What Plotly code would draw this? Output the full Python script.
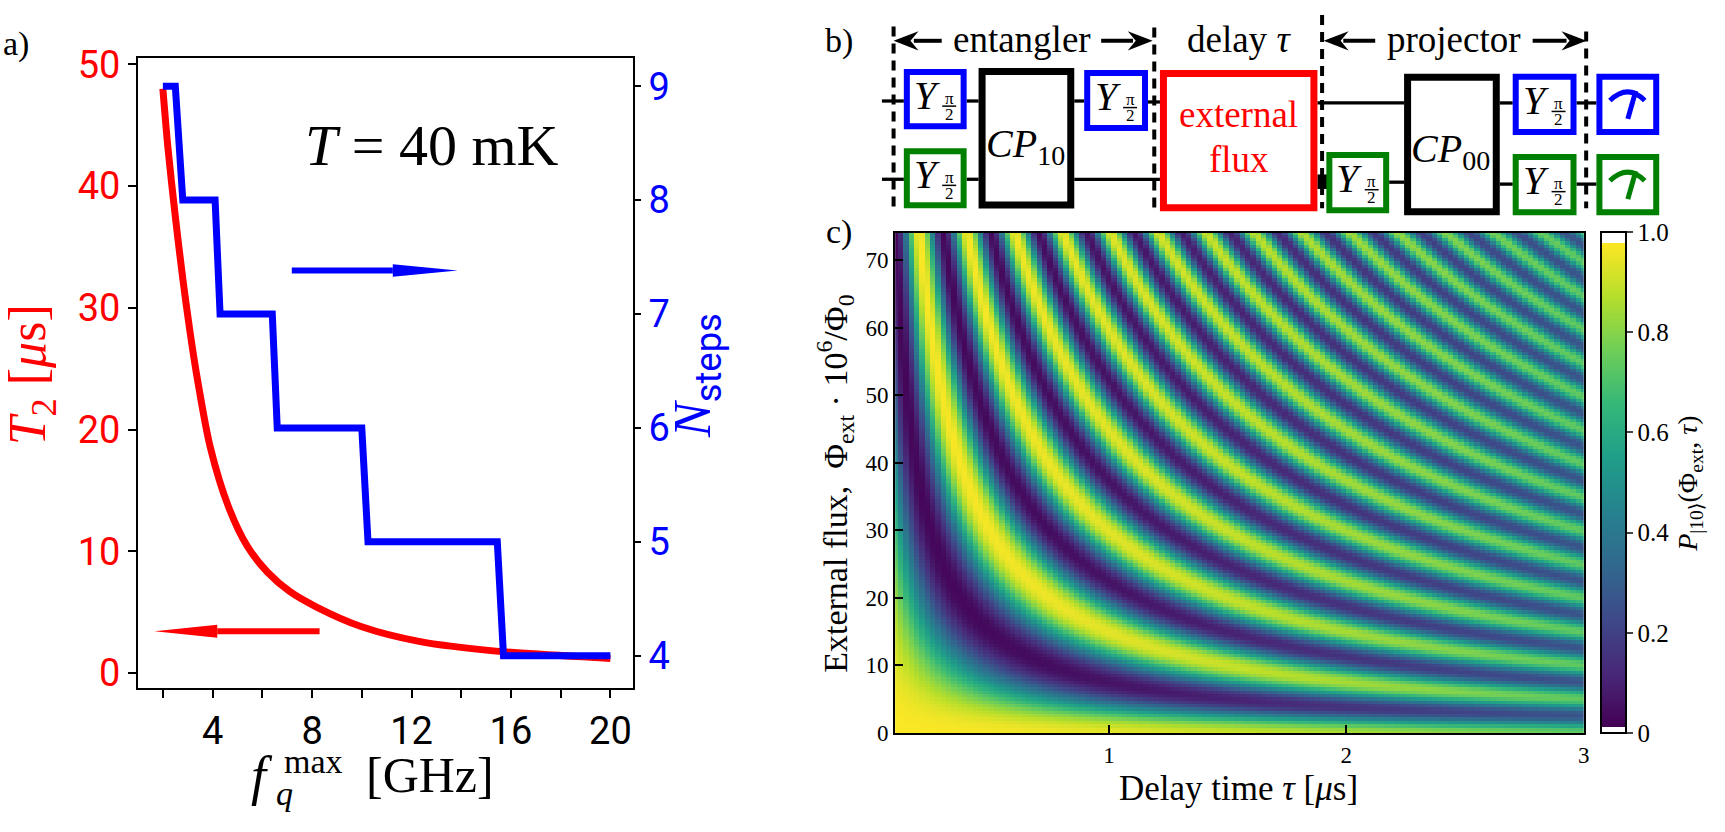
import numpy as np
import plotly.graph_objects as go
from plotly.colors import sequential

W, H = 1725, 832

# ---------------- panel a data ----------------
f_t2 = [2.0, 2.2, 2.5, 2.8, 3.1, 3.4, 3.9, 4.65, 5.4, 6.2, 7.1, 8.2, 10.0, 12.3, 15.4, 19.4, 20.0]
t2_us = [48.0, 43.2, 37.5, 32.4, 27.9, 24.0, 18.6, 13.6, 10.4, 8.3, 6.7, 5.4, 3.8, 2.6, 1.8, 1.27, 1.2]
f_steps = [2.0, 2.5, 2.8, 4.1, 4.3, 6.4, 6.6, 10.0, 10.25, 15.45, 15.7, 20.0]
n_steps = [9, 9, 8, 8, 7, 7, 6, 6, 5, 5, 4, 4]
f_ticks = [4, 8, 12, 16, 20]
f_minor_ticks = [2, 6, 10, 14, 18]
t2_ticks = [0, 10, 20, 30, 40, 50]
n_ticks = [4, 5, 6, 7, 8, 9]

# ---------------- panel c data (model) ----------------
tau_us = np.linspace(0.1, 3.0, 130)
phi_ext = np.linspace(0.0, 74.0, 150)
FRINGE_RATE = 0.067      # cycles per (us * 1e-6 Phi0)
CONTRAST = 0.95
DEPHASING_US = 3.6
TT, PP = np.meshgrid(tau_us, phi_ext)
P10 = 0.5 + 0.5 * CONTRAST * np.exp(-(TT / DEPHASING_US) ** 2) * np.cos(2 * np.pi * FRINGE_RATE * PP * TT)
tau_ticks = [1, 2, 3]
phi_ticks = [0, 10, 20, 30, 40, 50, 60, 70]
cb_ticks = [0, 0.2, 0.4, 0.6, 0.8, 1.0]
cb_text = ["0", "0.2", "0.4", "0.6", "0.8", "1.0"]

SERIF = "Liberation Serif, DejaVu Serif, serif"
SANS = "Liberation Sans Narrow, Roboto, DejaVu Sans, sans-serif"


def X(px):
    return px / W


def Y(py):
    return 1 - py / H


# viridis with white ends
vir = sequential.Viridis
lo, hi = 0.012, 0.978
cs = [[0, "white"], [lo, "white"]]
for i, c in enumerate(vir):
    cs.append([lo + (hi - lo) * i / (len(vir) - 1), c])
cs += [[hi, "white"], [1, "white"]]

fig = go.Figure()

fig.add_trace(go.Scatter(x=f_t2, y=t2_us, mode="lines", line=dict(color="#ff0000", width=7, shape="spline", smoothing=0.8),
                         xaxis="x", yaxis="y", hoverinfo="skip", showlegend=False))
fig.add_trace(go.Scatter(x=f_steps, y=n_steps, mode="lines", line=dict(color="#0000ff", width=7),
                         xaxis="x", yaxis="y2", hoverinfo="skip", showlegend=False))

fig.add_trace(go.Heatmap(
    x=tau_us, y=phi_ext, z=P10, zmin=0, zmax=1, colorscale=cs, xaxis="x2", yaxis="y3",
    hoverinfo="skip", zsmooth=False,
    colorbar=dict(x=X(1606.7), xanchor="left", y=Y(743), yanchor="bottom", len=518 / H, lenmode="fraction",
                  thickness=25, thicknessmode="pixels", outlinewidth=2, outlinecolor="black",
                  tickvals=cb_ticks, ticktext=cb_text, ticks="outside", ticklen=6, tickwidth=2,
                  tickfont=dict(family=SERIF, size=25, color="black"), xpad=0, ypad=0)))

axis_common = dict(showgrid=False, zeroline=False, showline=True, linecolor="black", linewidth=2)

fig.update_layout(
    width=W, height=H, margin=dict(l=0, r=0, t=0, b=0), paper_bgcolor="white", plot_bgcolor="white",
    showlegend=False,
    xaxis=dict(domain=[X(138.5), X(635)], range=[1.0, 20.9], anchor="y", mirror=True,
               tickvals=f_ticks, ticks="outside", ticklen=8, tickwidth=2, tickcolor="black",
               minor=dict(tickvals=f_minor_ticks, ticks="outside", ticklen=8, tickwidth=2, tickcolor="black",
                          showgrid=False),
               tickfont=dict(family=SANS, size=38, color="black"), **axis_common),
    yaxis=dict(domain=[Y(696.7), Y(44)], range=[-1.25, 50.56], anchor="x",
               tickvals=t2_ticks, ticks="outside", ticklen=8, tickwidth=2, tickcolor="black",
               tickfont=dict(family=SANS, size=38, color="#ff0000"), **axis_common),
    yaxis2=dict(overlaying="y", side="right", range=[3.714, 9.252], anchor="x",
                tickvals=n_ticks, ticks="outside", ticklen=6, tickwidth=2, tickcolor="black",
                tickfont=dict(family=SANS, size=38, color="#0000ff"), **axis_common),
    xaxis2=dict(domain=[X(898.3), X(1589.3)], range=[0.1, 3.0], anchor="y3", mirror=True,
                tickvals=tau_ticks, ticks="inside", ticklen=8, tickwidth=2, tickcolor="black",
                tickfont=dict(family=SERIF, size=23, color="black"), **axis_common),
    yaxis3=dict(domain=[Y(743), Y(225.5)], range=[0, 74], anchor="x2", mirror=True,
                tickvals=phi_ticks, ticks="inside", ticklen=8, tickwidth=2, tickcolor="black",
                tickfont=dict(family=SERIF, size=23, color="black"), **axis_common),
)

shapes = []
ann = []


def text(px, py, s, size, color="black", family=SERIF, angle=0, xanchor="center"):
    ann.append(dict(x=X(px), y=Y(py), xref="paper", yref="paper", text=s, showarrow=False,
                    font=dict(family=family, size=size, color=color), textangle=angle,
                    xanchor=xanchor, yanchor="middle"))


def line(x0, y0, x1, y1, color="black", width=3, dash="solid"):
    shapes.append(dict(type="line", xref="paper", yref="paper", x0=X(x0), y0=Y(y0), x1=X(x1), y1=Y(y1),
                       line=dict(color=color, width=width, dash=dash)))


def box(x0, y0, x1, y1, color, lw=6):
    h = lw / 2
    shapes.append(dict(type="rect", xref="paper", yref="paper", x0=X(x0 + h), y0=Y(y0 + h), x1=X(x1 - h),
                       y1=Y(y1 - h), line=dict(color=color, width=lw), fillcolor="white"))


def path(pts, color, closed=True, fill=True, width=0):
    d = "M " + " L ".join(f"{X(a):.5f},{Y(b):.5f}" for a, b in pts)
    if closed:
        d += " Z"
    shapes.append(dict(type="path", xref="paper", yref="paper", path=d,
                       fillcolor=color if fill else "rgba(0,0,0,0)",
                       line=dict(color=color, width=width)))


def simple_arrow(x_start, x_tip, y, color, head_len, hw, shaft_w):
    d = 1 if x_tip > x_start else -1
    hb = x_tip - d * head_len
    line(x_start, y, hb, y, color=color, width=shaft_w)
    path([(hb, y - hw), (x_tip, y), (hb, y + hw)], color)


def notched_head(x_tip, y, d, color, L=25, hw=10):
    path([(x_tip, y), (x_tip - d * L, y - hw), (x_tip - d * L * 0.68, y), (x_tip - d * L, y + hw)], color)


# ---------- panel a decorations ----------
simple_arrow(292.8, 459.2, 264.3, "#0000ff", 65, 6.5, 6)
simple_arrow(320.7, 155.0, 637.7, "#ff0000", 63, 6.7, 6)
text(16, 30, "a)", 34)
text(434, 135, "<i>T</i> = 40 mK", 58)
text(32, 372, "<i>T</i><sub>2</sub> [<i>μ</i>s]", 52, color="#ff0000", angle=-90)
text(700, 373, "<i>N</i><sub><span style='font-family:Roboto'>steps</span></sub>", 52, color="#0000ff", angle=-90)
text(263, 788, "<i>f</i>", 54)
text(315, 772, "max", 34)
text(285, 806, "<i>q</i>", 34)
text(431, 786, "[GHz]", 50)

# ---------- panel b: circuit ----------
text(842, 27, "b)", 34)
# wires
for (a, b, yy) in [(885, 907, 89), (970, 982, 89), (1078, 1088, 89), (1152, 1164, 90),
                   (885, 907, 170), (970, 982, 170), (1078, 1164, 170),
                   (1322, 1409, 91), (1505, 1518, 91), (1582, 1602, 91),
                   (1394, 1409, 173), (1505, 1518, 175), (1582, 1602, 175)]:
    line(a, yy, b, yy, width=3.3)
shapes.append(dict(type="rect", xref="paper", yref="paper", x0=X(1322), x1=X(1332), y0=Y(180), y1=Y(165),
                   fillcolor="black", line=dict(width=0)))
# dashed separators
for xx, y0 in [(896.7, 12), (1158.3, 13), (1326.7, 0), (1591.7, 17)]:
    line(xx, y0, xx, 200, width=4, dash="10px,7px")

# boxes
ybox = [(907, 56, 970, 118, "#0000ff"), (907, 138, 970, 200, "#008000"),
        (1088, 57, 1152, 120, "#0000ff"), (1331, 142, 1394, 205, "#008000"),
        (1518, 61, 1582, 124, "#0000ff"), (1518, 144, 1582, 207, "#008000")]
for x0, y0, x1, y1, c in ybox:
    box(x0, y0, x1, y1, c, 6)
    cx, cy = (x0 + x1) / 2, (y0 + y1) / 2
    text(cx - 8.5, cy - 4, "<i>Y</i>", 40)
    text(cx + 14, cy - 1, "π", 17)
    line(cx + 7, cy + 7.3, cx + 21, cy + 7.3, width=1.5)
    text(cx + 14, cy + 15.5, "2", 17)

box(982, 55, 1078, 200, "black", 7)
text(1029, 136, "<i>CP</i><sub>10</sub>", 40)
box(1409, 61, 1505, 207, "black", 7)
text(1456, 141, "<i>CP</i><sub>00</sub>", 40)
box(1164, 57, 1322, 203, "#ff0000", 7)
text(1243, 103, "external", 37, color="#ff0000")
text(1243, 150, "flux", 37, color="#ff0000")

# meters
for (y0, c) in [(61, "#0000ff"), (144, "#008000")]:
    box(1602, y0, 1665, y0 + 63, c, 6)
    cx, cy = 1633.5, y0 + 31.5
    shapes.append(dict(type="path", xref="paper", yref="paper",
                       path=f"M {X(cx-18):.5f},{Y(cy-4):.5f} Q {X(cx):.5f},{Y(cy-22):.5f} {X(cx+17):.5f},{Y(cy-4):.5f}",
                       line=dict(color=c, width=5)))
    line(cx, cy + 15, cx + 8, cy - 14, color=c, width=5)

# top labels with arrows
text(1026, 25, "entangler", 37)
line(917, 26.7, 945, 26.7, width=4)
notched_head(896.7, 26.7, -1, "black")
line(1105, 26.7, 1137, 26.7, width=4)
notched_head(1156.7, 26.7, 1, "black")
text(1243, 25, "delay <i>τ</i>", 37)
text(1459, 25, "projector", 37)
line(1348, 26.7, 1380, 26.7, width=4)
notched_head(1328.3, 26.7, -1, "black")
line(1538, 26.7, 1572, 26.7, width=4)
notched_head(1592, 26.7, 1, "black")

# ---------- panel c labels ----------
text(842, 225, "c)", 34)
text(1243, 800, "Delay time <i>τ</i> [<i>μ</i>s]", 35)
text(838, 485, "External flux,  Φ<sub>ext</sub> · 10<sup>6</sup>/Φ<sub>0</sub>", 34, angle=-90)
text(1696, 485, "<i>P</i><sub>|10⟩</sub>(Φ<sub>ext</sub>, <i>τ</i>)", 28, angle=-90)

fig.update_layout(shapes=shapes, annotations=ann)

fig.write_html("out.html", config={"displayModeBar": False},
               post_script="document.body.style.margin='0';document.body.style.overflow='hidden';")
